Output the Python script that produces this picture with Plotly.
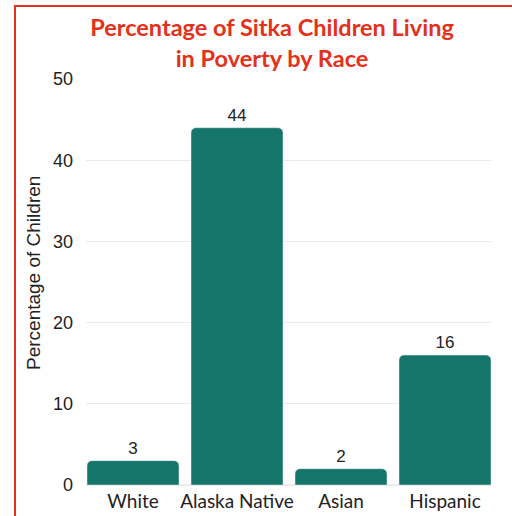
import plotly.graph_objects as go

categories = ["White", "Alaska Native", "Asian", "Hispanic"]
values = [3, 44, 2, 16]
y_ticks = [0, 10, 20, 30, 40, 50]

L, R, T, B = 86, 21, 79, 31
W, H = 512, 516
pw, ph = W - L - R, H - T - B

def px_x(x):
    return (x - L) / pw

def px_y(y):
    return 1 - (y - T) / ph

ARIAL = "Liberation Sans, Arial, sans-serif"
GEO = "Lato, Inter, sans-serif"

fig = go.Figure(go.Bar(
    x=categories, y=values,
    marker=dict(color="#16756a", cornerradius=5),
    text=[str(v) for v in values], textposition="outside",
    textfont=dict(family=ARIAL, size=17, color="#222222"),
    cliponaxis=False,
))

# category pitch 104px, first centre at x=133px
pitch = 104.0
a = -(133 - L) / pitch
b = a + pw / pitch

fig.update_layout(
    width=W, height=H,
    margin=dict(l=L, r=R, t=T, b=B, autoexpand=False),
    paper_bgcolor="white", plot_bgcolor="white",
    bargap=12 / 104,
    showlegend=False,
    title=dict(
        text="Percentage of Sitka Children Living<br>in Poverty by Race",
        x=272 / W, xanchor="center", y=1 - 36 / H, yanchor="middle",
        font=dict(family=GEO, size=23.5, color="#e3311a", weight="bold"),
    ),
    font=dict(family=ARIAL, size=17, color="#222222"),
)
fig.update_xaxes(
    range=[a, b], automargin=False,
    showgrid=False, showline=False, ticks="",
    ticklabelstandoff=3,
    tickfont=dict(family=GEO, size=19, color="#222222"),
)
fig.update_yaxes(
    range=[0, 50], tickvals=y_ticks, showgrid=True, gridcolor="#ebebeb", gridwidth=1,
    automargin=False,
    zeroline=True, zerolinecolor="#ebebeb", showline=False, ticks="",
    ticklabelstandoff=12,
    tickfont=dict(family=ARIAL, size=18, color="#222222"),
)
fig.add_annotation(
    text="Percentage of Children", textangle=-90,
    xref="paper", yref="paper", x=px_x(33), y=px_y(273),
    xanchor="center", yanchor="middle", showarrow=False,
    font=dict(family=ARIAL, size=19, color="#222222"),
)
fig.add_shape(
    type="rect", xref="paper", yref="paper",
    x0=px_x(15), x1=px_x(530), y0=px_y(540), y1=px_y(6),
    line=dict(color="#e8301c", width=2), fillcolor="rgba(0,0,0,0)", layer="above",
)
fig.write_html("out.html")
